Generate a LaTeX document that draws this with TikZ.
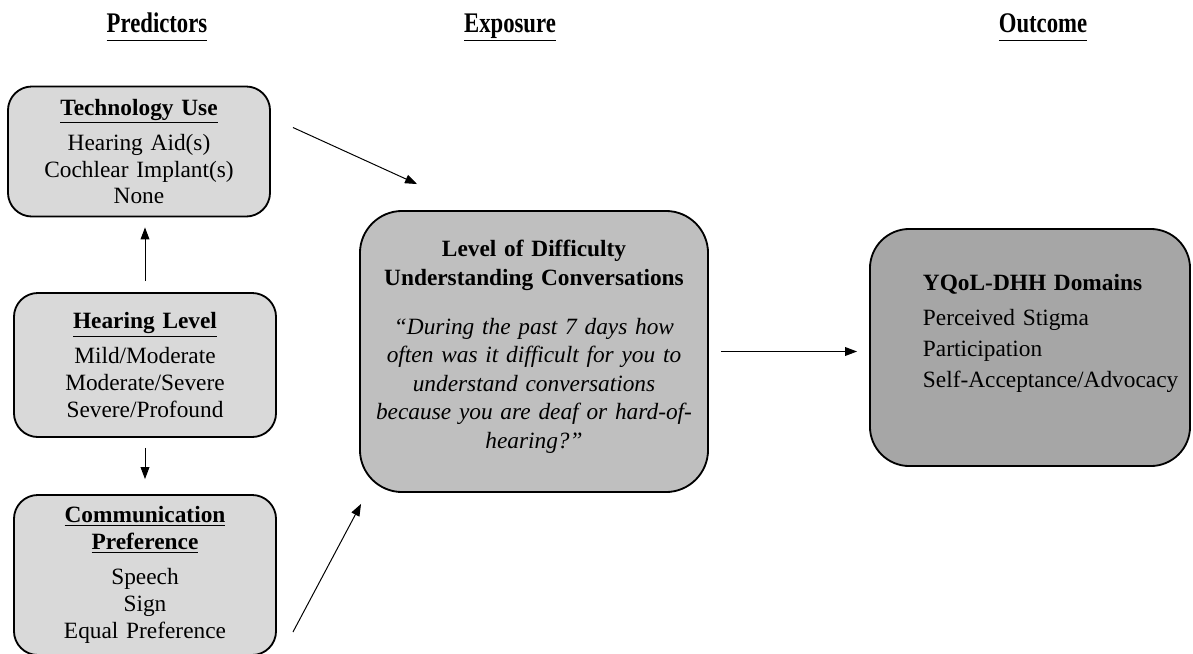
\documentclass[tikz,border=0pt]{standalone}
\usepackage{graphicx}
\usepackage{fontspec}
\setmainfont{Liberation Serif}
\usetikzlibrary{arrows.meta}

\definecolor{predfill}{RGB}{217,217,217}
\definecolor{expfill}{RGB}{191,191,191}
\definecolor{outfill}{RGB}{166,166,166}

\newcommand{\colhead}[1]{\scalebox{0.8}[1]{\underline{\vphantom{p}#1}}}

\tikzset{
  box/.style={draw, line width=1.3pt, align=center, inner xsep=0.15cm, inner ysep=0pt,
    font=\fontsize{16.6}{19}\selectfont},
  pred/.style={box, fill=predfill, rounded corners=17pt, text width=6.25cm, minimum width=6.55cm},
  expo/.style={box, fill=expfill, rounded corners=30pt, text width=8.4cm, minimum width=8.7cm, minimum height=7.025cm,
    font=\fontsize{16.6}{20.3}\selectfont},
  outc/.style={box, fill=outfill, rounded corners=28pt, align=left, inner xsep=0.05cm, text width=7.9cm, minimum width=8cm, minimum height=5.925cm},
  head/.style={anchor=base, font=\fontsize{20.2}{24}\selectfont\bfseries},
  arr/.style={-{Triangle[length=0.3cm,width=0.22cm]}, line width=0.7pt},
}

\begin{document}
\begin{tikzpicture}[x=0.025cm, y=-0.025cm]
\useasboundingbox (0,0) rectangle (1193,653);

% column heads
\node[head] (hpred) at (157,32) {\colhead{Predictors}};
\node[head] (hexp)  at (510,32) {\colhead{Exposure}};
\node[head] (hout)  at (1043,32) {\colhead{Outcome}};

% predictors
\node[pred, minimum height=3.25cm] (tech) at (139,151.5) {\underline{\textbf{Technology Use}}\\[6pt]Hearing Aid(s)\\Cochlear Implant(s)\\None};
\node[pred, minimum height=3.6cm] (hear) at (145,365) {\underline{\textbf{Hearing Level}}\\[6pt]Mild/Moderate\\Moderate/Severe\\Severe/Profound};
\node[pred, minimum height=4cm] (comm) at (145,575) {\underline{\textbf{Communication}}\\\underline{\textbf{Preference}}\\[6pt]Speech\\Sign\\Equal Preference};

% exposure
\node[expo] (lvl) at (534,351.5) {\textbf{Level of Difficulty\\Understanding Conversations}\\[14.5pt]\textit{“During the past 7 days how\\often was it difficult for you to\\understand conversations\\because you are deaf or hard-of-\\hearing?”}\rule[-10pt]{0pt}{10pt}};

% outcome
\node[outc] (yqol) at (1030,347.5) {\leftskip=1.275cm \textbf{YQoL-DHH Domains}\\[6pt]Perceived Stigma\\[3pt]Participation\\[3pt]\mbox{Self-Acceptance/Advocacy}\rule[-24pt]{0pt}{24pt}\par};

% connectors
\draw[arr] ([xshift=0.55cm,yshift=0.6cm]tech.east) -- ([xshift=1.45cm,yshift=0.65cm]lvl.north west);
\draw[arr, shorten <=0.275cm, shorten >=0.25cm] (hear.north) -- (hear.north |- tech.south);
\draw[arr, shorten <=0.25cm, shorten >=0.375cm] (hear.south) -- (comm.north);
\draw[arr] ([xshift=0.4cm,yshift=-1.425cm]comm.east) -- ([xshift=0.05cm,yshift=-0.275cm]lvl.south west);
\draw[arr, shorten <=0.3cm, shorten >=0.3cm] (lvl.east) -- (lvl.east -| yqol.west);
\end{tikzpicture}
\end{document}
